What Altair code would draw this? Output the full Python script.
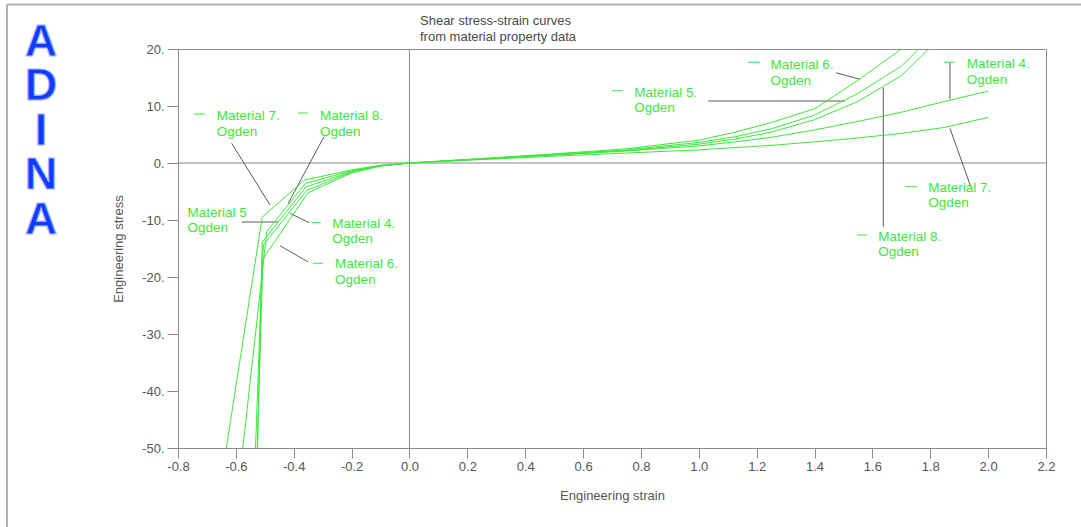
import altair as alt
import pandas as pd

# ---- text ---------------------------------------------------------------
TITLE_LINES = ["Shear stress-strain curves", "from material property data"]
X_TITLE = "Engineering strain"
Y_TITLE = "Engineering stress"
LOGO = "ADINA"

# ---- axes -----------------------------------------------------------------
X_DOMAIN = [-0.8, 2.2]
Y_DOMAIN = [-50, 20]
X_TICKS = [-0.8, -0.6, -0.4, -0.2, 0.0, 0.2, 0.4, 0.6, 0.8, 1.0,
           1.2, 1.4, 1.6, 1.8, 2.0, 2.2]
Y_TICKS = [20, 10, 0, -10, -20, -30, -40, -50]

# ---- stress-strain curves (Ogden fits) ------------------------------------
MATERIALS = ["Material 4", "Material 5", "Material 6", "Material 7", "Material 8"]

STRAIN_4 = [-0.525, -0.509, -0.358, -0.2, -0.1, 0.0, 0.25, 0.5, 0.75, 1.0,
            1.125, 1.25, 1.4, 1.55, 1.7, 1.85, 2.0]
STRESS_4 = [-50.0, -13.9, -4.2, -1.5, -0.5, 0.0, 0.7, 1.4, 2.1, 3.0,
            3.7, 4.5, 5.8, 7.3, 8.9, 10.8, 12.6]

STRAIN_5 = [-0.526, -0.505, -0.355, -0.2, -0.1, 0.0, 0.25, 0.5, 0.75, 1.0,
            1.125, 1.25, 1.4, 1.55, 1.7, 1.8]
STRESS_5 = [-50.0, -14.4, -4.8, -1.6, -0.5, 0.0, 0.75, 1.5, 2.3, 3.6,
            4.6, 6.0, 8.4, 12.2, 17.0, 22.0]

STRAIN_6 = [-0.532, -0.509, -0.35, -0.2, -0.1, 0.0, 0.25, 0.5, 0.75, 1.0,
            1.125, 1.25, 1.4, 1.55, 1.7, 1.75]
STRESS_6 = [-50.0, -17.0, -5.2, -1.75, -0.55, 0.0, 0.8, 1.6, 2.5, 4.0,
            5.4, 7.1, 9.5, 14.5, 20.0, 22.0]

STRAIN_7 = [-0.633, -0.509, -0.363, -0.2, -0.1, 0.0, 0.25, 0.5, 0.75, 1.0,
            1.125, 1.25, 1.4, 1.55, 1.7, 1.85, 2.0]
STRESS_7 = [-50.0, -9.5, -3.0, -1.2, -0.4, 0.0, 0.6, 1.2, 1.75, 2.3,
            2.7, 3.1, 3.7, 4.4, 5.2, 6.25, 8.0]

STRAIN_8 = [-0.576, -0.493, -0.36, -0.2, -0.1, 0.0, 0.25, 0.5, 0.75, 1.0,
            1.125, 1.25, 1.4, 1.55, 1.7, 1.85]
STRESS_8 = [-50.0, -12.0, -3.6, -1.35, -0.45, 0.0, 0.7, 1.4, 2.2, 3.3,
            4.2, 5.4, 7.6, 10.8, 15.3, 22.8]

CURVES = {
    "Material 4": (STRAIN_4, STRESS_4),
    "Material 5": (STRAIN_5, STRESS_5),
    "Material 6": (STRAIN_6, STRESS_6),
    "Material 7": (STRAIN_7, STRESS_7),
    "Material 8": (STRAIN_8, STRESS_8),
}

# ---- curve labels: text, anchor (strain, stress), key dash, leader line ---
LABEL_TEXT = [
    ["Material 7.", "Ogden"], ["Material 8.", "Ogden"], ["Material 5", "Ogden"],
    ["Material 4.", "Ogden"], ["Material 6.", "Ogden"], ["Material 6.", "Ogden"],
    ["Material 5.", "Ogden"], ["Material 4.", "Ogden"], ["Material 7.", "Ogden"],
    ["Material 8.", "Ogden"],
]
LABEL_X = [-0.666, -0.309, -0.767, -0.267, -0.257, 1.248, 0.777, 1.926, 1.793, 1.620]
LABEL_Y = [7.54, 7.54, -9.47, -11.35, -18.47, 16.49, 11.63, 16.61, -5.04, -13.68]

DASH_X1 = [-0.744, -0.385, -0.337, -0.334, 1.170, 0.700, 1.847, 1.713, 1.547]
DASH_X2 = [-0.707, -0.351, -0.306, -0.299, 1.211, 0.738, 1.885, 1.754, 1.582]
DASH_Y = [8.60, 8.77, -10.47, -17.60, 17.67, 12.68, 17.67, -4.16, -12.63]

LEADER_X1 = [-0.6145, -0.2955, -0.580, -0.347, -0.350, 1.474, 1.033, 1.868, 1.868, 1.6376]
LEADER_Y1 = [3.46, 4.61, -10.35, -10.47, -17.37, 15.84, 10.88, 17.67, 6.09, 13.21]
LEADER_X2 = [-0.482, -0.419, -0.4535, -0.413, -0.4476, 1.557, 1.505, 1.868, 1.940, 1.6376]
LEADER_Y2 = [-7.37, -7.07, -10.35, -8.82, -14.51, 14.68, 10.88, 11.18, -4.16, -11.18]

# ---- styling --------------------------------------------------------------
GREEN = "#3ce83c"
LEADER = "#5a5a5a"
FRAME = "#8a8a8a"
TEXT = "#555555"
FONT = "Liberation Sans"
W, H = 868, 399
PAD = {"left": 178, "top": 49, "right": 35, "bottom": 79}

rows = []
for name, (xs, ys) in CURVES.items():
    for i, (sx, sy) in enumerate(zip(xs, ys)):
        rows.append({"material": name, "strain": sx, "stress": sy, "seq": i})
curves_df = pd.DataFrame(rows)

labels_df = pd.DataFrame({"strain": LABEL_X, "stress": LABEL_Y, "label": LABEL_TEXT})
dash_df = pd.DataFrame({"strain": DASH_X1, "strain2": DASH_X2, "stress": DASH_Y})
leader_df = pd.DataFrame({"strain": LEADER_X1, "stress": LEADER_Y1,
                          "strain2": LEADER_X2, "stress2": LEADER_Y2})

x_scale = alt.Scale(domain=X_DOMAIN, nice=False, zero=False)
y_scale = alt.Scale(domain=Y_DOMAIN, nice=False, zero=False)

x_axis = alt.Axis(
    values=X_TICKS, title=X_TITLE, grid=False,
    labelExpr="(datum.value < -0.001 ? '-' : '') + format(abs(datum.value), '.1f')",
    tickSize=10, labelPadding=2, labelFlush=False, labelOverlap=False,
    domainColor=FRAME, tickColor=FRAME, labelColor=TEXT, titleColor=TEXT,
    labelFont=FONT, labelFontSize=13, titleFont=FONT, titleFontSize=13,
    titleFontWeight="normal", titlePadding=16,
)
y_axis = alt.Axis(
    values=Y_TICKS, title=Y_TITLE, grid=False,
    labelExpr="(datum.value < 0 ? '-' : '') + format(abs(datum.value), 'd') + '.'",
    tickSize=11, labelPadding=3, labelFlush=False, labelOverlap=False,
    domainColor=FRAME, tickColor=FRAME, labelColor=TEXT, titleColor=TEXT,
    labelFont=FONT, labelFontSize=13, titleFont=FONT, titleFontSize=13,
    titleFontWeight="normal", titlePadding=16,
)

X = alt.X("strain:Q", scale=x_scale, axis=x_axis)
Y = alt.Y("stress:Q", scale=y_scale, axis=y_axis)

# zero reference lines
zero_x = alt.Chart(pd.DataFrame({"strain": [0.0]})).mark_rule(
    color=FRAME, strokeWidth=1).encode(x="strain:Q")
zero_y = alt.Chart(pd.DataFrame({"stress": [0.0]})).mark_rule(
    color=FRAME, strokeWidth=1).encode(y="stress:Q")

leaders = alt.Chart(leader_df).mark_rule(color=LEADER, strokeWidth=1).encode(
    x="strain:Q", y="stress:Q", x2="strain2:Q", y2="stress2:Q")

lines = alt.Chart(curves_df).mark_line(
    color=GREEN, strokeWidth=1, clip=True, interpolate="linear"
).encode(x=X, y=Y, detail="material:N", order="seq:Q")

dashes = alt.Chart(dash_df).mark_rule(color=GREEN, strokeWidth=1).encode(
    x="strain:Q", x2="strain2:Q", y="stress:Q")

labels = alt.Chart(labels_df).mark_text(
    align="left", baseline="alphabetic", font=FONT, fontSize=13.5,
    lineHeight=15.5, color=GREEN
).encode(x="strain:Q", y="stress:Q", text="label")

one = pd.DataFrame({"k": [0]})

title = alt.Chart(one).mark_text(
    align="left", baseline="alphabetic", font=FONT, fontSize=13,
    lineHeight=15.5, color="#4a4a4a", text=TITLE_LINES
).encode(x=alt.value(420 - PAD["left"]), y=alt.value(25 - PAD["top"]))

# outer sheet border (top and left edges)
border_top = alt.Chart(one).mark_rule(color="#b4b4b4", strokeWidth=2).encode(
    x=alt.value(7 - PAD["left"]), x2=alt.value(1081 - PAD["left"]),
    y=alt.value(4.5 - PAD["top"]))
border_left = alt.Chart(one).mark_rule(color="#b4b4b4", strokeWidth=2).encode(
    x=alt.value(7 - PAD["left"]), y=alt.value(4.5 - PAD["top"]),
    y2=alt.value(527 - PAD["top"]))

# logo: letters stacked vertically, blue fill with a pale blue outline
logo = alt.Chart(one).mark_text(
    align="center", baseline="alphabetic", font=FONT,
    fontSize=45, fontWeight="bold", color="#0f3cff",
    stroke="#a8b6ff", strokeWidth=1.2, lineHeight=44.5, text=list(LOGO)
).encode(x=alt.value(41 - PAD["left"]), y=alt.value(55.5 - PAD["top"]))

chart = alt.layer(
    border_top, border_left, zero_x, zero_y, leaders, lines, dashes, labels,
    title, logo
).properties(
    width=W, height=H,
    autosize=alt.AutoSizeParams(type="none"),
    padding=PAD,
    background="white",
).configure_view(stroke=FRAME, strokeWidth=1)

chart.save("out.html", embed_options={"renderer": "svg", "actions": False})
